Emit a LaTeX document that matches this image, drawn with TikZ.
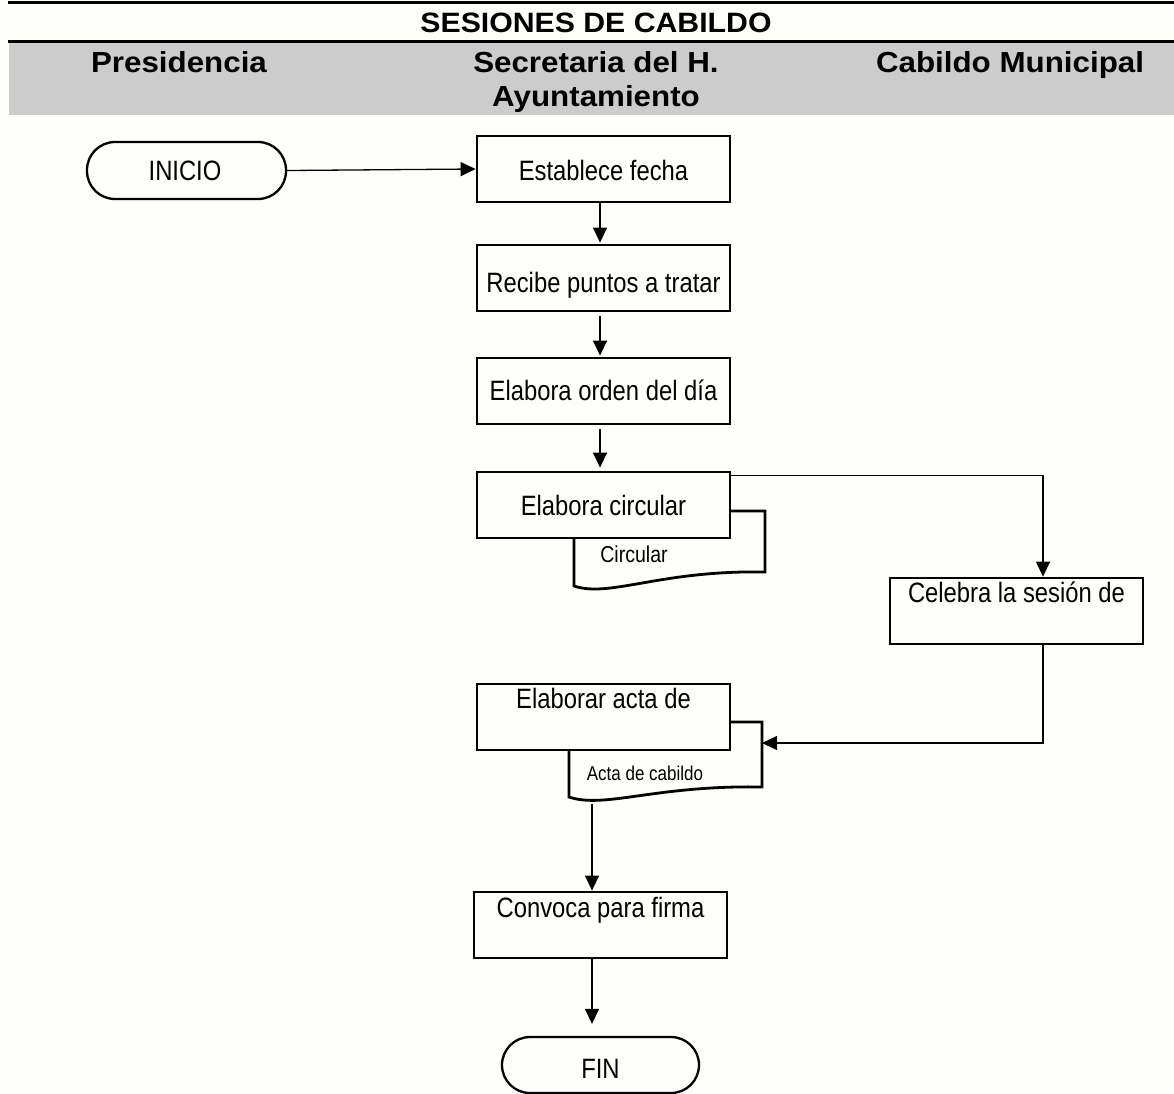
\documentclass[tikz,border=0pt]{standalone}
\usepackage{fontspec}
\setmainfont{Liberation Sans}
\newfontfamily\hdrfont{Liberation Sans}[FakeStretch=1.08]
\newfontfamily\boxfont{Liberation Sans}[FakeStretch=0.85]
\usetikzlibrary{arrows.meta,calc}
\definecolor{bg}{RGB}{254,254,250}
\definecolor{band}{RGB}{204,204,204}
\begin{document}
\begin{tikzpicture}[x=1pt,y=-1pt,
  procbox/.style={draw,line width=2.8pt,fill=bg,minimum width=253pt,minimum height=66pt,inner sep=0pt},
  term/.style={draw,line width=2.3pt,rounded corners=28pt,fill=bg,inner sep=0pt},
  txt/.style={anchor=base,inner sep=0pt,font=\boxfont\fontsize{28}{32}\selectfont},
  doctxt/.style={anchor=base,inner sep=0pt,font=\boxfont\fontsize{23}{27}\selectfont},
  doctxtsm/.style={anchor=base,inner sep=0pt,font=\boxfont\fontsize{20}{24}\selectfont},
  hdr/.style={anchor=base,inner sep=0pt,font=\hdrfont\bfseries\fontsize{29}{33}\selectfont},
  conn/.style={line width=1.3pt},
  arr/.style={conn,-{Triangle[length=15pt,width=14pt]}},
  docline/.style={line width=2.8pt,fill=bg,line join=miter}
]
\useasboundingbox (0,0) rectangle (1174,1093);
\fill[bg] (0,0) rectangle (1174,1093);
% header
\fill[band] (9,42) rectangle (1174,115);
\draw[line width=3pt] (8,2.5) -- (1174,2.5);
\draw[line width=3pt] (8,41) -- (1174,41);
\node[hdr,font=\hdrfont\bfseries\fontsize{28}{32}\selectfont] (title) at (596,32) {SESIONES DE CABILDO};
\node[hdr] (hpres) at (179,72) {Presidencia};
\node[hdr] (hsec) at (596,72) {Secretaria del H.};
\node[hdr] (hsec2) at (596,106) {Ayuntamiento};
\node[hdr] (hcab) at (1010,72) {Cabildo Municipal};

% terminals
\node[term,minimum width=199pt,minimum height=57pt] (inicio) at (186.5,170.5) {};
\node[txt] (iniciot) at (185,180) {INICIO};
\node[term,minimum width=197pt,minimum height=56pt] (fin) at (600.5,1065) {};
\node[txt] (fint) at (600.5,1078) {FIN};

% process boxes
\node[procbox] (estab) at (603.5,169) {};
\node[txt] (estabt) at (603.5,180) {Establece fecha};
\node[procbox] (recibe) at (603.5,278) {};
\node[txt] (recibet) at (603.5,292) {Recibe puntos a tratar};
\node[procbox] (orden) at (603.5,391) {};
\node[txt] (ordent) at (603.5,400) {Elabora orden del día};

% document shapes
\draw[docline] (574,586) -- (574,511) -- (765,511) -- (765,572)
  .. controls (660,570) and (610,598) .. (574,586) -- cycle;
\draw[docline] (569,797) -- (569,722) -- (762,722) -- (762,787)
  .. controls (655,785) and (605,809) .. (569,797) -- cycle;

\node[procbox] (circ) at (603.5,505) {};
\node[txt] (circt) at (603.5,515) {Elabora circular};
\node[doctxt] (circdoc) at (634,562) {Circular};

\node[procbox] (celeb) at (1016.5,611) {};
\node[txt] (celebt) at (1016.5,602) {Celebra la sesión de};

\node[procbox] (acta) at (603.5,717) {};
\node[txt] (actat) at (603.5,708) {Elaborar acta de};
\node[doctxtsm] (actadoc) at (645,780) {Acta de cabildo};

\node[procbox] (conv) at (600.5,925) {};
\node[txt] (convt) at (600.5,917) {Convoca para firma};

% connectors
\coordinate (colx) at (600,0);
\coordinate (colc) at (1043,0);
\coordinate (actaR) at (762,743);
\coordinate (actaB) at (592,804);
\draw[arr] (inicio.east) -- (estab.west);
\draw[arr,shorten >=1pt] (estab.south -| colx) -- (recibe.north -| colx);
\draw[arr,shorten <=4pt,shorten >=1pt] (recibe.south -| colx) -- (orden.north -| colx);
\draw[arr,shorten <=4pt,shorten >=3pt] (orden.south -| colx) -- (circ.north -| colx);
\draw[arr] ([yshift=-5pt]circ.north east) -| (celeb.north -| colc);
\draw[arr] (celeb.south -| colc) |- (actaR);
\draw[arr] (actaB) -- (actaB |- conv.north);
\draw[arr,shorten >=12pt] (actaB |- conv.south) -- (actaB |- fin.north);
\end{tikzpicture}
\end{document}
